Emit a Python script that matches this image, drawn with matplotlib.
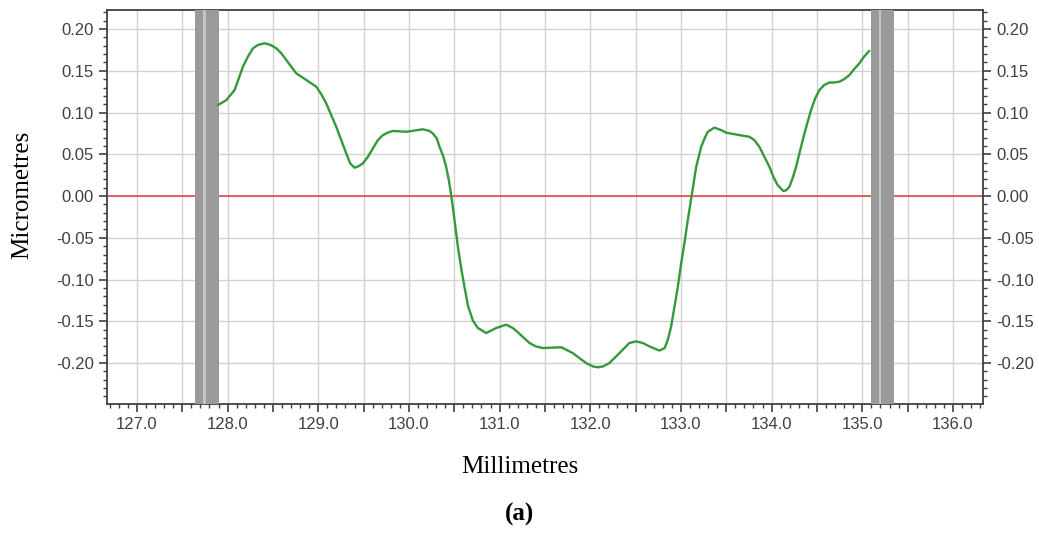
import matplotlib

matplotlib.use("Agg")
import matplotlib.pyplot as plt
from matplotlib.ticker import MultipleLocator, FuncFormatter

# ---------------------------------------------------------------------------
# Profile data
# ---------------------------------------------------------------------------
x_mm = [
    127.893, 127.986, 128.077, 128.169, 128.224, 128.28, 128.334, 128.408,
    128.474, 128.537, 128.592, 128.647, 128.702, 128.757, 128.813, 128.868,
    128.923, 128.978, 129.033, 129.088, 129.143, 129.198, 129.253, 129.309,
    129.353, 129.40, 129.448, 129.49, 129.547, 129.602, 129.657, 129.712,
    129.767, 129.822, 129.97, 130.153, 130.227, 130.263, 130.308, 130.337,
    130.374, 130.41, 130.44, 130.466, 130.503, 130.54, 130.577, 130.613,
    130.65, 130.705, 130.76, 130.852, 130.962, 131.018, 131.073, 131.146,
    131.2, 131.33, 131.40, 131.476, 131.68, 131.807, 131.88, 131.955,
    132.03, 132.083, 132.14, 132.21, 132.285, 132.358, 132.43, 132.506,
    132.58, 132.653, 132.763, 132.82, 132.855, 132.89, 132.928, 132.965,
    133.002, 133.04, 133.075, 133.12, 133.168, 133.223, 133.26, 133.296,
    133.369, 133.443, 133.498, 133.645, 133.755, 133.81, 133.865, 133.92,
    133.976, 134.02, 134.067, 134.13, 134.16, 134.196, 134.23, 134.27,
    134.306, 134.343, 134.387, 134.435, 134.48, 134.527, 134.58, 134.637,
    134.69, 134.748, 134.80, 134.858, 134.91, 134.968, 135.02, 135.078,
]
y_um = [
    0.109, 0.115, 0.127, 0.155, 0.167, 0.177, 0.181, 0.183,
    0.181, 0.177, 0.171, 0.163, 0.155, 0.147, 0.143, 0.139,
    0.135, 0.131, 0.122, 0.111, 0.097, 0.083, 0.067, 0.051,
    0.039, 0.034, 0.036, 0.039, 0.047, 0.057, 0.067, 0.073,
    0.076, 0.078, 0.077, 0.080, 0.078, 0.075, 0.069, 0.059,
    0.049, 0.035, 0.019, 0.001, -0.029, -0.061, -0.087, -0.109,
    -0.131, -0.149, -0.158, -0.164, -0.158, -0.156, -0.154, -0.158,
    -0.163, -0.176, -0.180, -0.182, -0.181, -0.188, -0.194, -0.200,
    -0.204, -0.205, -0.204, -0.200, -0.192, -0.184, -0.176, -0.174,
    -0.176, -0.180, -0.185, -0.182, -0.172, -0.157, -0.133, -0.109,
    -0.081, -0.055, -0.029, 0.002, 0.035, 0.059, 0.069, 0.077,
    0.082, 0.079, 0.076, 0.073, 0.071, 0.067, 0.059, 0.047,
    0.035, 0.023, 0.013, 0.006, 0.007, 0.011, 0.021, 0.035,
    0.051, 0.067, 0.085, 0.103, 0.117, 0.127, 0.133, 0.136,
    0.136, 0.137, 0.140, 0.145, 0.152, 0.159, 0.167, 0.174,
]

# excluded zones (dark bars) and the thin light stripe inside each
band_lo = [127.636, 135.097]
band_hi = [127.900, 135.350]
stripe_lo = [127.728, 135.180]
stripe_hi = [127.758, 135.210]

GREY_TXT = "#404040"

fig = plt.figure(figsize=(10.39, 5.33), dpi=100)
ax = fig.add_axes([0.103, 0.242, 0.843, 0.739])

ax.plot(x_mm, y_um, color="#33993a", lw=1.7, zorder=4,
        solid_joinstyle="round", solid_capstyle="round")
ax.axhline(0.0, color="#e83a3a", lw=1.1, zorder=2)

for lo, hi in zip(band_lo, band_hi):
    ax.axvspan(lo, hi, color="#9a9a9a", lw=0, zorder=3)
for lo, hi in zip(stripe_lo, stripe_hi):
    ax.axvspan(lo, hi, color="#c4c4c4", lw=0, zorder=3)

ax.set_xlim(126.67, 136.33)
ax.set_ylim(-0.249, 0.2227)

ax.xaxis.set_major_locator(MultipleLocator(0.5))
ax.xaxis.set_minor_locator(MultipleLocator(0.1))
ax.xaxis.set_major_formatter(
    FuncFormatter(lambda v, _: f"{v:.1f}" if abs(v - round(v)) < 1e-6 else ""))
ax.yaxis.set_major_locator(MultipleLocator(0.05))
ax.yaxis.set_minor_locator(MultipleLocator(0.01))
ax.yaxis.set_major_formatter(FuncFormatter(lambda v, _: f"{v:.2f}"))

ax.grid(True, which="major", color="#d2d2d2", lw=1.0, zorder=0)
ax.set_axisbelow(True)

ax.tick_params(axis="both", which="both", direction="out", colors=GREY_TXT,
               labelsize=12)
ax.tick_params(axis="y", which="both", left=True, right=True,
               labelleft=True, labelright=True)
ax.tick_params(axis="x", which="both", top=False)
ax.tick_params(which="major", length=6, width=1.2)
ax.tick_params(which="minor", length=3, width=1.0)
for lbl in (ax.xaxis.get_ticklabels(which="major")
            + ax.yaxis.get_ticklabels(which="major")):
    lbl.set_family("Liberation Sans")
for side in ("left", "right", "top", "bottom"):
    ax.spines[side].set_color(GREY_TXT)
    ax.spines[side].set_linewidth(1.3)

fig.text(0.021, 0.634, "Micrometres", rotation=90, ha="center", va="center",
         family="Liberation Serif", fontsize=18)
fig.text(0.5, 0.124, "Millimetres", ha="center", va="center",
         family="Liberation Serif", fontsize=18)
fig.text(0.5, 0.034, "(a)", ha="center", va="center",
         family="Liberation Serif", fontsize=18, fontweight="bold")

fig.savefig("out.png", dpi=100)
